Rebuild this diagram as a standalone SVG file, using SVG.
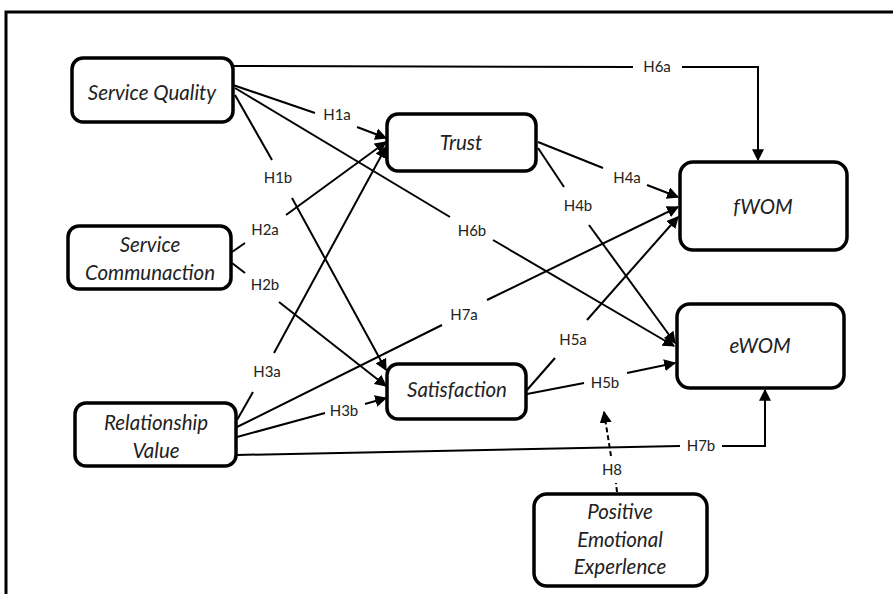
<svg xmlns="http://www.w3.org/2000/svg" width="893" height="594" viewBox="0 0 893 594">
<style>
.frame{fill:none;stroke:#000;stroke-width:3}
.box{fill:#fff;stroke:#000;stroke-width:3.5}
.nt{font-family:Lato,"Open Sans",sans-serif;font-style:italic;font-size:20.5px;fill:#222;text-anchor:middle}
.lb{font-family:Lato,"Open Sans",sans-serif;font-size:15px;fill:#222;text-anchor:middle}
.ln{fill:none;stroke:#000;stroke-width:2}
.ar{fill:none;stroke:#000;stroke-width:2;marker-end:url(#ah)}
.da{fill:none;stroke:#000;stroke-width:2;stroke-dasharray:5,3}
</style>
<defs>
<marker id="ah" viewBox="0 0 10 10" refX="9" refY="5" markerWidth="6" markerHeight="6" markerUnits="strokeWidth" orient="auto">
<path d="M0,0 L10,5 L0,10 z" fill="#000"/>
</marker>
</defs>
<rect width="893" height="594" fill="#fff"/>
<path class="frame" d="M6,594 V12 H893"/>

<g id="connectors">
<path class="ln" d="M233,85 L315,113"/>
<path class="ar" d="M357,127 L386,138"/>
<path class="ln" d="M235,95 L272,160"/>
<path class="ar" d="M292,198 L386,370"/>
<path class="ln" d="M233,66 L633,67"/>
<path class="ar" d="M682,67 H758 V160"/>
<path class="ln" d="M235,88 L450,217"/>
<path class="ar" d="M493,240 L674,346"/>
<path class="ln" d="M232,252 L245,243"/>
<path class="ar" d="M286,215 L386,142"/>
<path class="ln" d="M232,263 L245,273"/>
<path class="ar" d="M279,302 L386,386"/>
<path class="ln" d="M237,420 L253,392"/>
<path class="ar" d="M274,353 L386,147"/>
<path class="ln" d="M237,427 L442,325"/>
<path class="ar" d="M487,300 L678,207"/>
<path class="ln" d="M237,437 L325,413"/>
<path class="ar" d="M365,404 L386,398"/>
<path class="ln" d="M237,455 L680,446"/>
<path class="ar" d="M722,446 H765 V390"/>
<path class="ln" d="M538,142 L603,168"/>
<path class="ar" d="M647,185 L678,197"/>
<path class="ln" d="M538,148 L564,187"/>
<path class="ar" d="M589,225 L675,343"/>
<path class="ln" d="M527,390 L555,358"/>
<path class="ar" d="M587,320 L678,217"/>
<path class="ln" d="M527,394 L584,383"/>
<path class="ar" d="M627,373 L675,363"/>
<path class="da" d="M617,492 L616,483"/>
<path class="da" d="M611,456 L604,412" marker-end="url(#ah)"/>
</g>

<g id="labels">
<text class="lb" x="337" y="120">H1a</text>
<text class="lb" x="278" y="183">H1b</text>
<text class="lb" x="657" y="72">H6a</text>
<text class="lb" x="472" y="236">H6b</text>
<text class="lb" x="265" y="235">H2a</text>
<text class="lb" x="265" y="290">H2b</text>
<text class="lb" x="267" y="377">H3a</text>
<text class="lb" x="464" y="320">H7a</text>
<text class="lb" x="344" y="416">H3b</text>
<text class="lb" x="701" y="451">H7b</text>
<text class="lb" x="627" y="183">H4a</text>
<text class="lb" x="578" y="211">H4b</text>
<text class="lb" x="573" y="345">H5a</text>
<text class="lb" x="605" y="388">H5b</text>
<text class="lb" x="612" y="475">H8</text>
</g>

<g id="service-quality">
<rect class="box" x="72" y="58" width="161" height="64" rx="11"/>
<text class="nt" x="152" y="100">Service Quality</text>
</g>
<g id="service-communaction">
<rect class="box" x="68" y="226" width="163" height="63" rx="11"/>
<text class="nt" x="150" y="252">Service</text>
<text class="nt" x="150" y="280">Communaction</text>
</g>
<g id="relationship-value">
<rect class="box" x="75" y="403" width="161" height="63" rx="11"/>
<text class="nt" x="156" y="430">Relationship</text>
<text class="nt" x="156" y="458">Value</text>
</g>
<g id="trust">
<rect class="box" x="387" y="114" width="149" height="57" rx="11"/>
<text class="nt" x="461" y="150">Trust</text>
</g>
<g id="satisfaction">
<rect class="box" x="387" y="364" width="139" height="55" rx="11"/>
<text class="nt" x="457" y="397">Satisfaction</text>
</g>
<g id="fwom">
<rect class="box" x="680" y="162" width="167" height="88" rx="13"/>
<text class="nt" x="763" y="214">fWOM</text>
</g>
<g id="ewom">
<rect class="box" x="677" y="304" width="167" height="84" rx="13"/>
<text class="nt" x="760" y="353">eWOM</text>
</g>
<g id="positive-emotional-experlence">
<rect class="box" x="534" y="494" width="173" height="92" rx="13"/>
<text class="nt" x="620" y="519">Positive</text>
<text class="nt" x="620" y="547">Emotional</text>
<text class="nt" x="620" y="574">Experlence</text>
</g>
</svg>
